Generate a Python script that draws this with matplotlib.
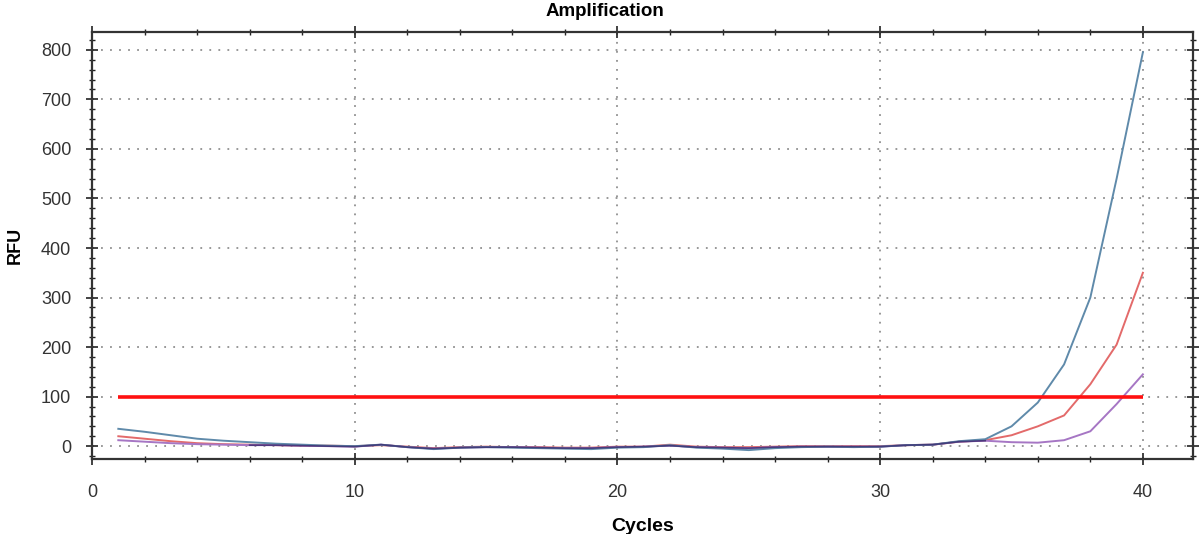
import matplotlib.pyplot as plt
from matplotlib.ticker import MultipleLocator

plt.rcParams['font.family'] = ['Liberation Sans', 'DejaVu Sans']

cycles = list(range(1, 41))

# RFU readings, cycles 1..40
well_blue = [35, 29, 22, 15, 11, 8, 5, 3, 1, 0,
             3, -2, -6, -3, -2, -3, -4, -5, -6, -3,
             -2, 2, -3, -5, -8, -4, -2, -1, -2, -1,
             2, 3, 10, 14, 40, 88, 165, 300, 540, 795]
well_red = [20, 15, 10, 6, 4, 3, 2, 1, 1, 0,
            2, -1, -4, -2, -1, -2, -2, -3, -3, -1,
            -1, 3, -1, -2, -2, -1, 0, 0, 0, 0,
            2, 3, 9, 12, 22, 40, 62, 125, 205, 350]
well_purple = [12, 9, 6, 4, 3, 2, 2, 1, 0, -1,
               3, -2, -5, -3, -2, -2, -3, -4, -4, -2,
               -1, 1, -2, -3, -4, -2, -1, -1, -1, -1,
               2, 3, 9, 11, 8, 7, 12, 30, 85, 145]
threshold = 100

fig = plt.figure(figsize=(12, 5.34), dpi=100)
ax = fig.add_axes([0.0767, 0.1404, 0.9173, 0.7996])

ax.plot(cycles, well_red, color="#e36a6a", lw=1.4)
ax.plot(cycles, well_purple, color="#a676c4", lw=1.4)
ax.plot(cycles, well_blue, color="#5f8aaa", lw=1.4)
# dark overlap of the three baselines
ax.plot(cycles[5:34], well_purple[5:34], color="#3b2a6e", lw=1.2, alpha=0.8)
ax.hlines(threshold, 1, 40, color="#ff1010", lw=2.6)

ax.set_xlim(0, 41.9)
ax.set_ylim(-26, 836)
ax.xaxis.set_major_locator(MultipleLocator(10))
ax.xaxis.set_minor_locator(MultipleLocator(2))
ax.yaxis.set_major_locator(MultipleLocator(100))
ax.yaxis.set_minor_locator(MultipleLocator(20))
ax.grid(True, which="major", color="#909090", ls=(0, (1, 4)), lw=1.3)

ax.tick_params(which="both", direction="inout", top=True, right=True,
               colors="#222222", labelcolor="#333333", labelsize=13)
ax.tick_params(which="major", length=8, width=1.2)
ax.tick_params(which="minor", length=4, width=1.0)
ax.tick_params(axis="y", pad=11)
ax.tick_params(axis="x", pad=14)
for side in ax.spines.values():
    side.set_linewidth(1.6)
    side.set_color("#333333")

fig.text(605 / 1200, 1 - 12 / 534, "Amplification", fontsize=13.5,
         fontweight="bold", ha="center", va="center")
ax.set_xlabel("Cycles", fontsize=14, fontweight="bold", labelpad=12)
ax.set_ylabel("RFU", fontsize=13, fontweight="bold", labelpad=12)

fig.savefig("out.png", dpi=100)
